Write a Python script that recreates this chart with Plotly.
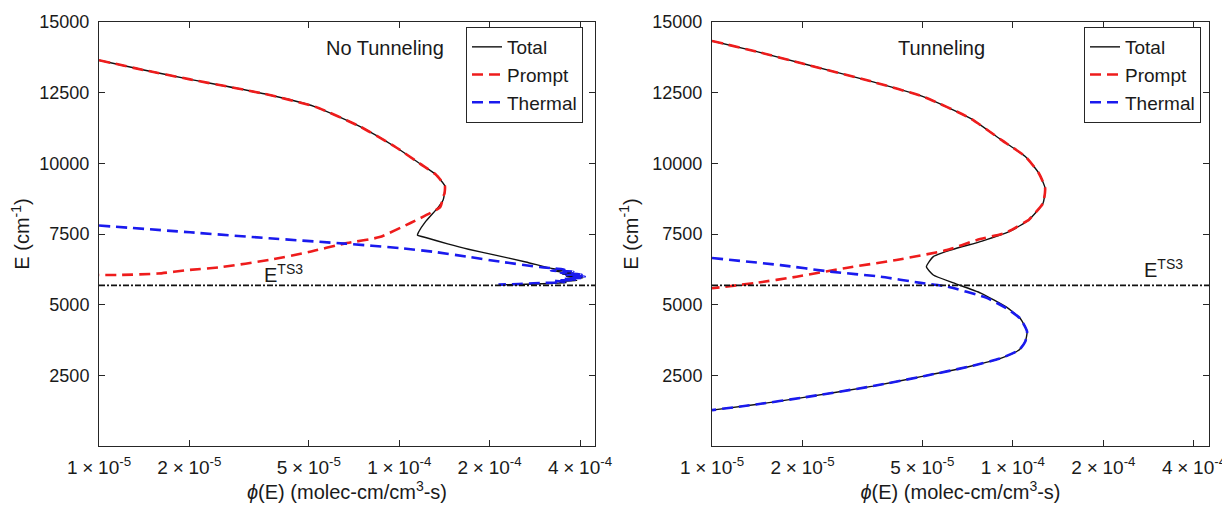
import plotly.graph_objects as go

# ---------------- data ----------------
# Left panel: No Tunneling
L_upper_phi = [1.00e-5, 1.41e-5, 2.01e-5, 3.55e-5, 5.25e-5, 7.41e-5, 9.77e-5, 1.175e-4, 1.318e-4, 1.419e-4, 1.413e-4]
L_upper_E   = [13650, 13300, 12970, 12460, 12000, 11300, 10560, 9980, 9620, 9200, 8900]

L_total_low_phi = [1.40e-4, 1.35e-4, 1.22e-4, 1.16e-4, 1.15e-4, 1.24e-4, 1.45e-4, 1.70e-4, 2.07e-4, 2.64e-4, 3.26e-4,
                   3.5e-4, 3.3e-4, 3.8e-4, 3.5e-4, 4.05e-4, 3.6e-4, 4.1e-4, 3.7e-4, 3.9e-4, 3.4e-4, 3.6e-4, 3.2e-4, 2.8e-4, 2.5e-4, 2.15e-4]
L_total_low_E   = [8700, 8450, 7920, 7570, 7460, 7360, 7150, 6960, 6760, 6510, 6270,
                   6220, 6180, 6120, 6080, 6020, 5990, 5950, 5910, 5860, 5820, 5780, 5750, 5730, 5715, 5705]

L_prompt_low_phi = [1.41e-4, 1.37e-4, 1.29e-4, 1.09e-4, 8.6e-5, 6.56e-5, 4.99e-5, 3.68e-5, 2.56e-5, 2.01e-5, 1.57e-5, 1.16e-5, 1.00e-5]
L_prompt_low_E   = [8900, 8460, 8280, 7890, 7390, 7160, 6860, 6580, 6330, 6230, 6100, 6050, 6050]

L_thermal_phi = [1.00e-5, 2.01e-5, 3.68e-5, 6.56e-5, 1.01e-4, 1.30e-4, 1.68e-4, 2.17e-4, 2.94e-4,
                 3.3e-4, 3.55e-4, 3.2e-4, 3.8e-4, 3.45e-4, 4.05e-4, 3.6e-4, 4.15e-4, 3.8e-4, 4.1e-4, 3.55e-4,
                 3.9e-4, 3.3e-4, 3.55e-4, 2.8e-4, 2.5e-4, 2.14e-4]
L_thermal_E   = [7800, 7560, 7350, 7160, 7000, 6870, 6700, 6520, 6330,
                 6280, 6250, 6200, 6180, 6120, 6080, 6050, 6000, 5980, 5950, 5920,
                 5880, 5850, 5800, 5760, 5730, 5710]

# Right panel: Tunneling
R_upper_phi = [1.00e-5, 1.41e-5, 2.00e-5, 3.43e-5, 5.06e-5, 7.23e-5, 9.18e-5, 1.10e-4, 1.22e-4, 1.28e-4, 1.26e-4, 1.13e-4]
R_upper_E   = [14330, 13950, 13530, 12880, 12350, 11590, 10820, 10240, 9650, 9120, 8590, 8000]

R_total_mid_phi = [9.8e-5, 7.9e-5, 6.3e-5, 5.44e-5, 5.16e-5, 5.44e-5, 6.35e-5, 7.82e-5, 9.5e-5, 1.06e-4, 1.115e-4,
                   1.10e-4, 1.05e-4, 9.2e-5, 7.23e-5, 5.05e-5, 3.43e-5, 2.0e-5, 1.40e-5, 1.00e-5]
R_total_mid_E   = [7600, 7250, 6950, 6700, 6340, 6050, 5770, 5410, 4920, 4500, 4050,
                   3700, 3400, 3120, 2820, 2470, 2120, 1710, 1470, 1270]

R_prompt_low_phi = [1.13e-4, 9.5e-5, 7.6e-5, 6.03e-5, 4.10e-5, 2.79e-5, 1.91e-5, 1.40e-5, 1.00e-5]
R_prompt_low_E   = [8000, 7550, 7290, 6930, 6580, 6300, 5990, 5770, 5580]

R_thermal_phi = [1.00e-5, 1.69e-5, 2.47e-5, 3.63e-5, 4.93e-5, 6.03e-5, 8.18e-5, 9.6e-5, 1.06e-4, 1.115e-4,
                 1.10e-4, 1.05e-4, 9.2e-5, 7.23e-5, 5.05e-5, 3.43e-5, 2.0e-5, 1.40e-5, 1.00e-5]
R_thermal_E   = [6650, 6400, 6170, 5990, 5770, 5640, 5240, 4850, 4500, 4050,
                 3700, 3400, 3120, 2820, 2470, 2120, 1710, 1470, 1270]

E_TS3 = 5680

x_tickvals = [1e-5, 2e-5, 5e-5, 1e-4, 2e-4, 4e-4]
x_ticktext = ["1\u2005\u00d7\u200510<sup>-5</sup>", "2\u2005\u00d7\u200510<sup>-5</sup>", "5\u2005\u00d7\u200510<sup>-5</sup>",
              "1\u2005\u00d7\u200510<sup>-4</sup>", "2\u2005\u00d7\u200510<sup>-4</sup>", "4\u2005\u00d7\u200510<sup>-4</sup>"]
y_tickvals = [2500, 5000, 7500, 10000, 12500, 15000]
y_ticktext = ["2500", "5000", "7500", "10000", "12500", "15000"]

# ---------------- styling ----------------
FONT = "Liberation Sans, Arial, sans-serif"
BLACK = "#111111"
RED = "#ee1c1c"
BLUE = "#1a1aee"
DASH = "11px,6px"
TXT = "#1a1a1a"
W, H = 1222, 504   # page body has an 8px margin

fig = go.Figure()

def add_panel(xa, ya, legend, total_x, total_y, prompt_x, prompt_y, thermal_x, thermal_y):
    fig.add_trace(go.Scatter(x=total_x, y=total_y, mode="lines", name="Total",
                             line=dict(color=BLACK, width=1.4, shape="spline", smoothing=0.5),
                             xaxis=xa, yaxis=ya, legend=legend))
    fig.add_trace(go.Scatter(x=prompt_x, y=prompt_y, mode="lines", name="Prompt",
                             line=dict(color=RED, width=2.6, dash=DASH, shape="spline", smoothing=0.5),
                             xaxis=xa, yaxis=ya, legend=legend))
    fig.add_trace(go.Scatter(x=thermal_x, y=thermal_y, mode="lines", name="Thermal",
                             line=dict(color=BLUE, width=2.6, dash=DASH, shape="spline", smoothing=0.5),
                             xaxis=xa, yaxis=ya, legend=legend))

add_panel("x", "y", "legend",
          L_upper_phi + L_total_low_phi, L_upper_E + L_total_low_E,
          L_upper_phi + L_prompt_low_phi, L_upper_E + L_prompt_low_E,
          L_thermal_phi, L_thermal_E)
add_panel("x2", "y2", "legend2",
          R_upper_phi + R_total_mid_phi, R_upper_E + R_total_mid_E,
          R_upper_phi + R_prompt_low_phi, R_upper_E + R_prompt_low_E,
          R_thermal_phi, R_thermal_E)

axis_common = dict(showline=True, linecolor="#262626", linewidth=1, mirror="allticks",
                   ticks="inside", ticklen=6, tickcolor="#262626", showgrid=False, zeroline=False,
                   automargin=False)

xtitle = "<i>\u03d5</i>(E) (molec-cm/cm<sup>3</sup>-s)"
ytitle = "E (cm<sup>-1</sup>)"

def xaxis(domain, anchor):
    return dict(domain=domain, type="log", range=[-5, -3.348], anchor=anchor,
                tickvals=x_tickvals, ticktext=x_ticktext, ticklabelstandoff=4,
                tickfont=dict(family=FONT, size=19, color=TXT),
                title=dict(text=xtitle, standoff=6, font=dict(family=FONT, size=20, color=TXT)),
                **axis_common)

def yaxis(anchor):
    return dict(domain=[0, 1], range=[0, 15000], anchor=anchor, tickvals=y_tickvals,
                ticktext=y_ticktext, ticklabelstandoff=5,
                tickfont=dict(family=FONT, size=18, color=TXT),
                title=dict(text=ytitle, standoff=8, font=dict(family=FONT, size=20, color=TXT)),
                **axis_common)

legend_common = dict(xanchor="left", yanchor="top", bgcolor="white",
                     bordercolor="#262626", borderwidth=1,
                     font=dict(family=FONT, size=19, color=TXT), itemwidth=30,
                     tracegroupgap=0)

fig.update_layout(
    width=W, height=H,
    margin=dict(l=0, r=0, t=14, b=66),
    plot_bgcolor="white", paper_bgcolor="white",
    font=dict(family=FONT, size=19, color=TXT),
    xaxis=xaxis([91 / W, 587 / W], "y"),
    yaxis=yaxis("x"),
    xaxis2=xaxis([704 / W, 1201 / W], "y2"),
    yaxis2=yaxis("x2"),
    legend=dict(x=458 / W, y=0.9882, **legend_common),
    legend2=dict(x=1076 / W, y=0.9882, **legend_common),
    showlegend=True,
)

for xr, yr in [("x", "y"), ("x2", "y2")]:
    fig.add_shape(type="line", xref=xr + " domain", yref=yr,
                  x0=0, x1=1, y0=E_TS3, y1=E_TS3,
                  line=dict(color=BLACK, width=1.7, dash="6px,2px,2px,2px"))

ann_font = dict(family=FONT, size=20, color=TXT)
fig.add_annotation(text="No Tunneling", x=377 / W, y=0.9387, xref="paper", yref="paper",
                   xanchor="center", yanchor="middle", showarrow=False, font=ann_font)
fig.add_annotation(text="Tunneling", x=933 / W, y=0.9387, xref="paper", yref="paper",
                   xanchor="center", yanchor="middle", showarrow=False, font=ann_font)
fig.add_annotation(text="E<sup>TS3</sup>", x=275 / W, y=0.372, xref="paper", yref="paper",
                   xanchor="center", yanchor="bottom", showarrow=False, font=ann_font)
fig.add_annotation(text="E<sup>TS3</sup>", x=1155 / W, y=0.384, xref="paper", yref="paper",
                   xanchor="center", yanchor="bottom", showarrow=False, font=ann_font)

fig.write_html("out.html")
